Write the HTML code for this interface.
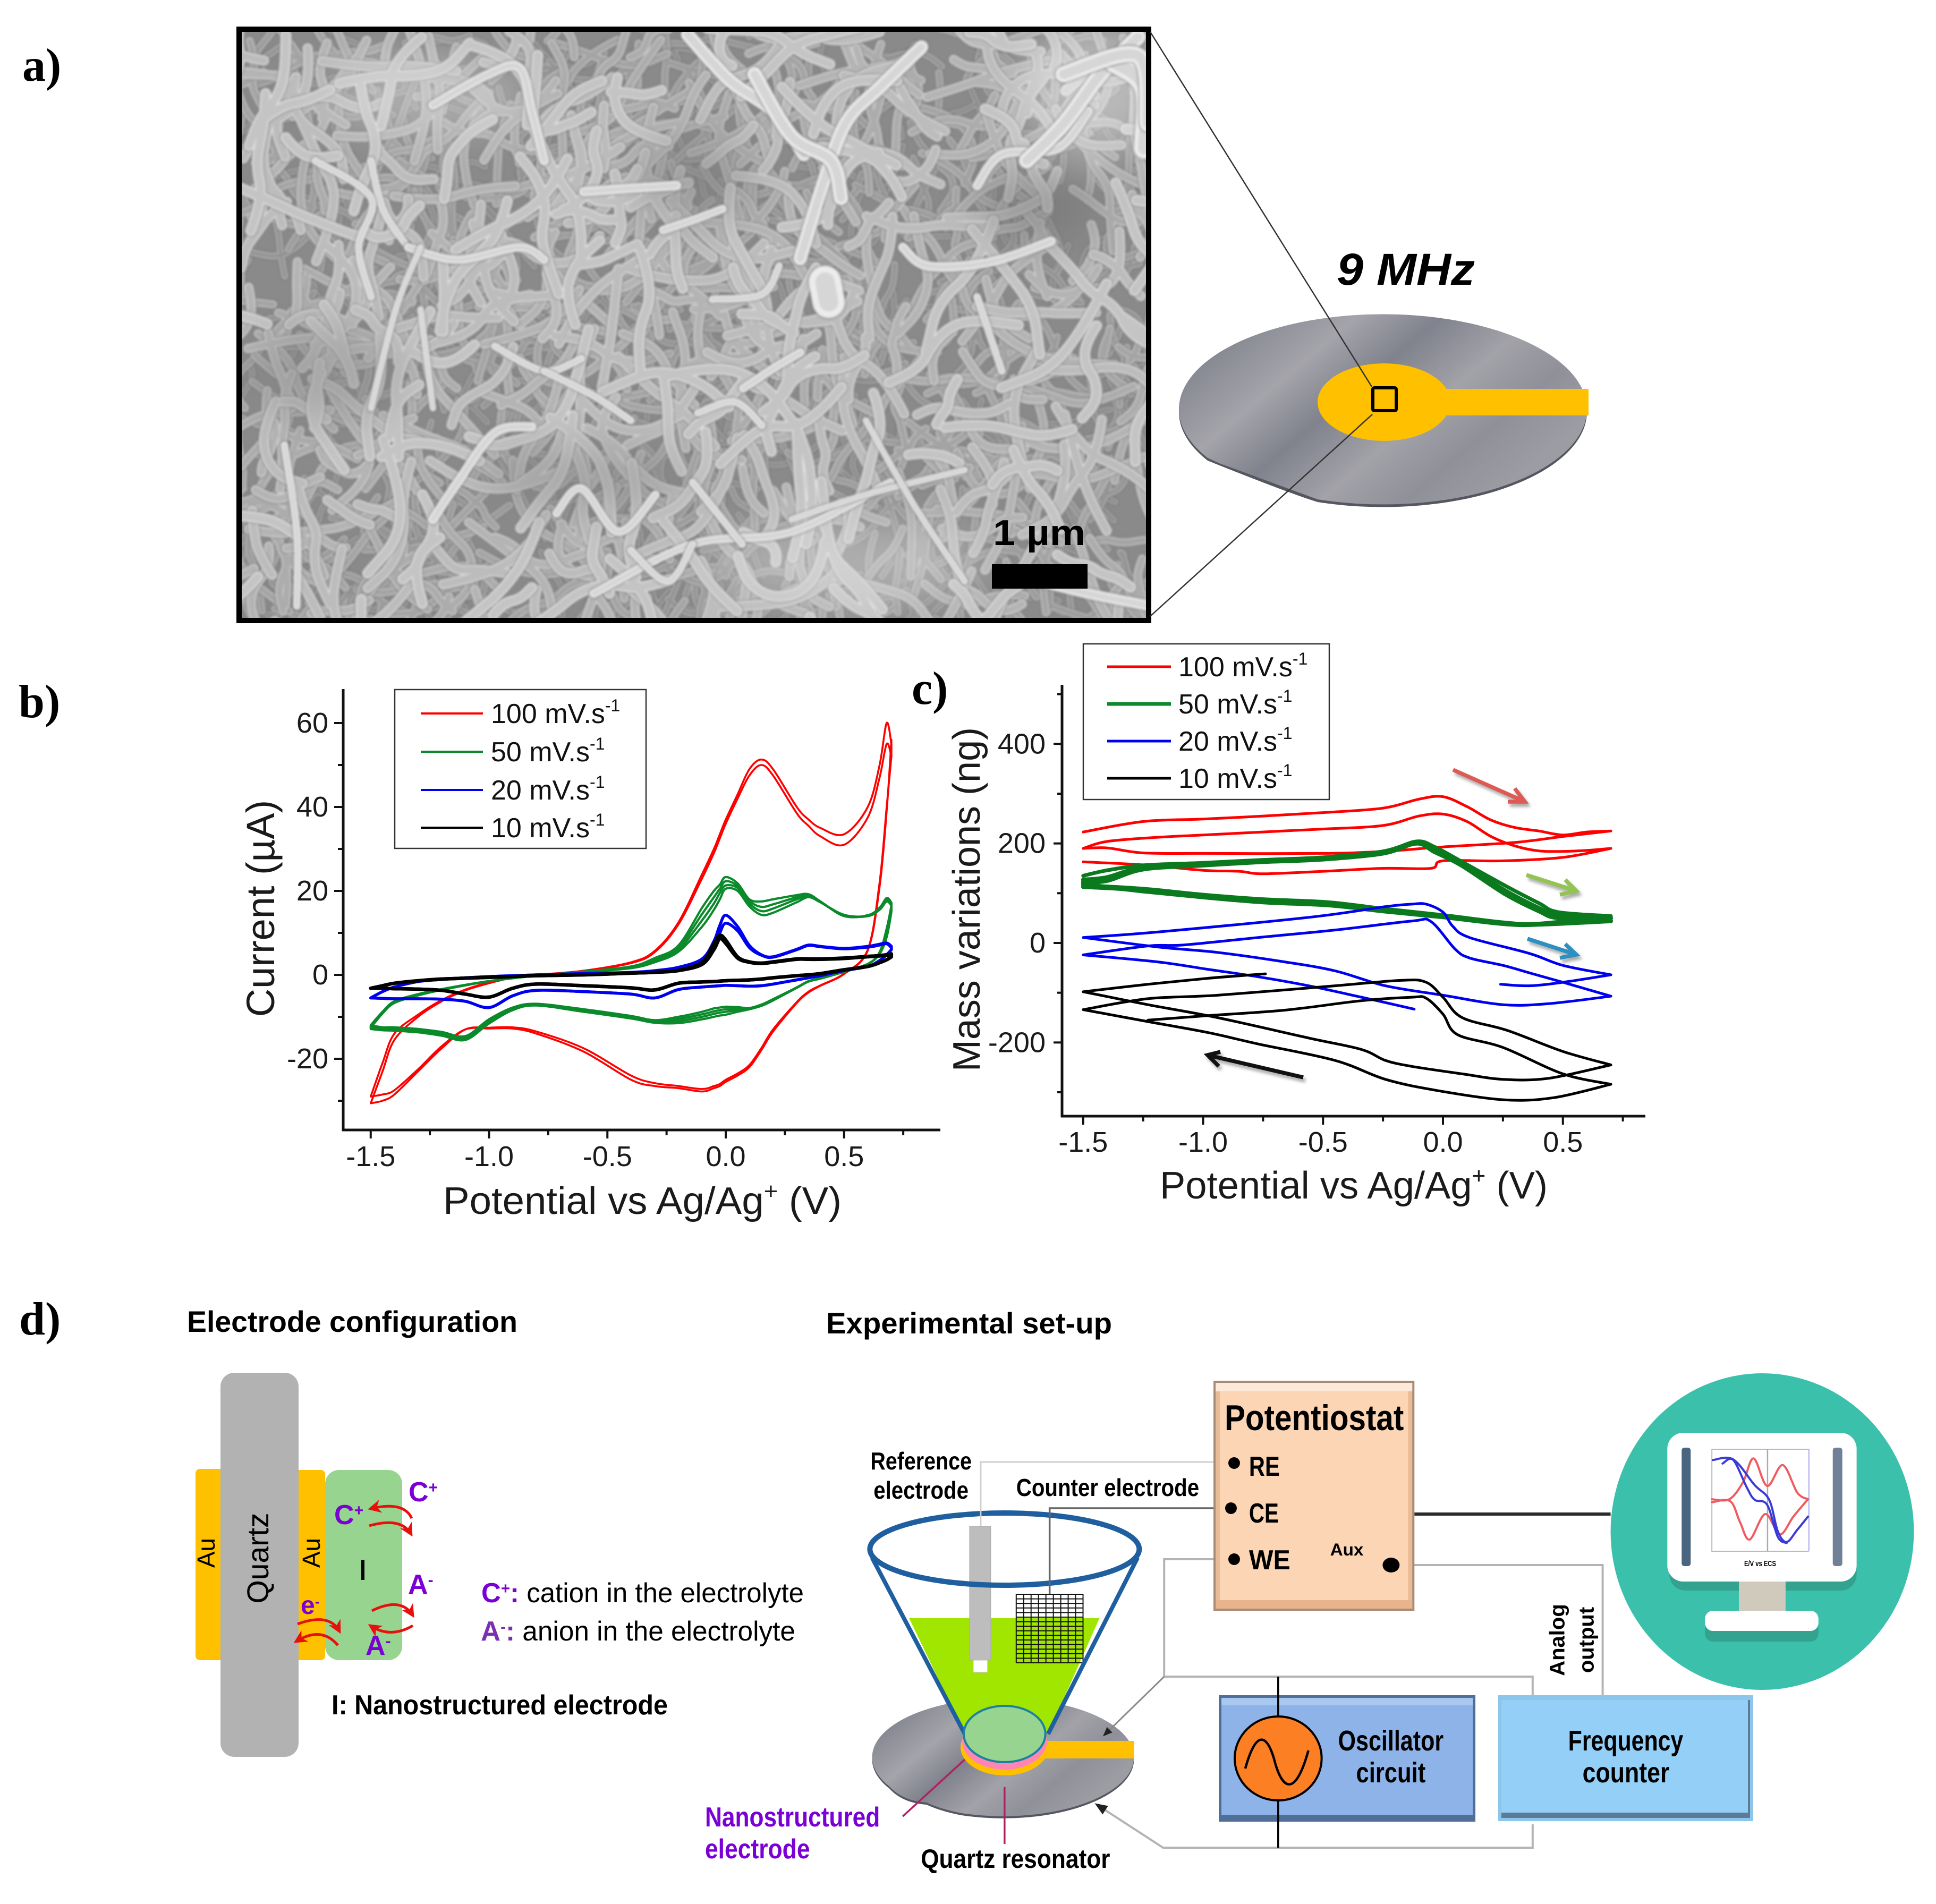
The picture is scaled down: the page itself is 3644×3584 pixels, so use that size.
<!DOCTYPE html>
<html lang="en">
<head>
<meta charset="utf-8">
<title>Nanostructured electrode EQCM figure</title>
<style>
html,body{margin:0;padding:0;background:#fff;width:3644px;height:3584px;overflow:hidden}
svg{display:block}
text{font-family:"Liberation Sans",sans-serif;fill:#000}
.panel{font-family:"Liberation Serif",serif;font-weight:bold;font-size:88px}
.tick{font-size:54px;fill:#1a1a1a}
.title{font-size:72px;fill:#1a1a1a}
.leg{font-size:52px;fill:#111}
.b{font-weight:bold}
.pur{fill:#7a00d6;font-weight:bold}
</style>
</head>
<body>
<svg id="figure" xmlns="http://www.w3.org/2000/svg" width="3644" height="3584" viewBox="0 0 3644 3584">
<defs>
  <clipPath id="semClip"><rect x="449" y="54" width="1713" height="1115"/></clipPath>
  <filter id="soft" x="-2%" y="-2%" width="104%" height="104%"><feGaussianBlur stdDeviation="2.2"/></filter>
  <filter id="blotch" x="-30%" y="-30%" width="160%" height="160%"><feGaussianBlur stdDeviation="40"/></filter>
  <linearGradient id="discGrad" x1="0" y1="0" x2="1" y2="0.55">
    <stop offset="0" stop-color="#7f818c"/><stop offset=".14" stop-color="#858791"/><stop offset=".34" stop-color="#a4a4aa"/>
    <stop offset=".5" stop-color="#80828d"/><stop offset=".68" stop-color="#a2a2a8"/><stop offset=".84" stop-color="#8f9099"/><stop offset="1" stop-color="#9c9ca3"/>
  </linearGradient>
  <marker id="redHead" viewBox="0 0 10 10" refX="8" refY="5" markerWidth="5" markerHeight="5" orient="auto"><path d="M0 0L10 5L0 10L3 5z" fill="#e8100c"/></marker>
  <marker id="grayHead" viewBox="0 0 10 10" refX="8" refY="5" markerWidth="6" markerHeight="6" orient="auto"><path d="M0 1L10 5L0 9z" fill="#222"/></marker>
</defs>

<!-- PANEL A -->
<text class="panel" x="42" y="152">a)</text>
<g id="semImage">
  <rect x="445" y="50" width="1722" height="1123" fill="#8a8a8a"/>
  <g clip-path="url(#semClip)">
    <g id="semFibres" filter="url(#soft)"></g>
    <g id="semBlotches" filter="url(#blotch)" opacity=".4">
      <ellipse cx="2060" cy="170" rx="130" ry="120" fill="#fff"/>
      <ellipse cx="1950" cy="390" rx="110" ry="70" fill="#6a6a6a"/>
      <ellipse cx="1300" cy="340" rx="110" ry="80" fill="#7a7a7a"/>
      <ellipse cx="800" cy="180" rx="190" ry="70" fill="#e4e4e4"/>
      <ellipse cx="620" cy="700" rx="140" ry="90" fill="#808080"/>
      <ellipse cx="1100" cy="900" rx="200" ry="60" fill="#808080"/>
      <ellipse cx="1600" cy="1060" rx="260" ry="80" fill="#e4e4e4"/>
    </g>
    <g id="semMajor" filter="url(#soft)"></g>
  </g>
  <rect x="450" y="55" width="1712" height="1113" fill="none" stroke="#000" stroke-width="10"/>
</g>
<rect x="1867" y="1062" width="180" height="46" fill="#000"/>
<text class="b" x="1869" y="1026" font-size="68" textLength="174" lengthAdjust="spacingAndGlyphs">1 µm</text>

<g>
  <path d="M2273 862A384 179 0 1 1 2480 940Q2430 925 2273 862z" transform="translate(0 5)" fill="#55565f"/>
  <path d="M2273 862A384 179 0 1 1 2480 940L2295 872z" fill="url(#discGrad)"/>
  <ellipse cx="2605" cy="757" rx="125" ry="73" fill="#ffc000"/>
  <rect x="2714" y="732" width="276" height="50" fill="#ffc000"/>
  <rect x="2584" y="730" width="44" height="43" rx="3" fill="none" stroke="#000" stroke-width="6"/>
</g>
<line x1="2165" y1="60" x2="2582" y2="728" stroke="#333" stroke-width="2.5"/>
<line x1="2165" y1="1160" x2="2583" y2="780" stroke="#333" stroke-width="2.5"/>
<text x="2516" y="536" font-size="84" font-weight="bold" font-style="italic" textLength="260" lengthAdjust="spacingAndGlyphs">9 MHz</text>

<!-- PANEL B -->
<text class="panel" x="35" y="1350">b)</text>
<g id="chartB">
  <g id="bSeries"></g>
  <line x1="646" y1="1297" x2="646" y2="2129" stroke="#111" stroke-width="5"/>
  <line x1="644" y1="2127" x2="1770" y2="2127" stroke="#111" stroke-width="5"/>
  <g id="bTicks"></g>
  <text class="title" x="834" y="2285" textLength="750" lengthAdjust="spacingAndGlyphs">Potential vs Ag/Ag<tspan dy="-28" font-size="44">+</tspan><tspan dy="28"> (V)</tspan></text>
  <text class="title" style="font-size:74px" transform="translate(516 1710) rotate(-90)" text-anchor="middle">Current (µA)</text>
  <g>
    <rect x="743" y="1298" width="473" height="299" fill="#fff" fill-opacity="0" stroke="#333" stroke-width="2.5"/>
    <line x1="792" y1="1343" x2="909" y2="1343" stroke="#f00" stroke-width="4"/>
    <text class="leg" x="924" y="1361">100 mV.s<tspan dy="-22" font-size="32">-1</tspan></text>
    <line x1="792" y1="1415" x2="909" y2="1415" stroke="#0b8a2b" stroke-width="4"/>
    <text class="leg" x="924" y="1433">50 mV.s<tspan dy="-22" font-size="32">-1</tspan></text>
    <line x1="792" y1="1487" x2="909" y2="1487" stroke="#0000f0" stroke-width="4"/>
    <text class="leg" x="924" y="1505">20 mV.s<tspan dy="-22" font-size="32">-1</tspan></text>
    <line x1="792" y1="1558" x2="909" y2="1558" stroke="#000" stroke-width="4"/>
    <text class="leg" x="924" y="1576">10 mV.s<tspan dy="-22" font-size="32">-1</tspan></text>
  </g>
</g>

<!-- PANEL C -->
<text class="panel" x="1716" y="1325">c)</text>
<g id="chartC">
  <g id="cSeries"></g>
  <line x1="1999" y1="1289" x2="1999" y2="2103" stroke="#111" stroke-width="5"/>
  <line x1="1997" y1="2101" x2="3097" y2="2101" stroke="#111" stroke-width="5"/>
  <g id="cTicks"></g>
  <text class="title" x="2183" y="2256" textLength="730" lengthAdjust="spacingAndGlyphs">Potential vs Ag/Ag<tspan dy="-28" font-size="44">+</tspan><tspan dy="28"> (V)</tspan></text>
  <text class="title" transform="translate(1844 1693) rotate(-90)" text-anchor="middle">Mass variations (ng)</text>
  <g>
    <rect x="2039" y="1212" width="463" height="293" fill="#fff" stroke="#333" stroke-width="2.5"/>
    <line x1="2084" y1="1255" x2="2204" y2="1255" stroke="#f00" stroke-width="5"/>
    <text class="leg" x="2218" y="1273">100 mV.s<tspan dy="-22" font-size="32">-1</tspan></text>
    <line x1="2084" y1="1325" x2="2204" y2="1325" stroke="#0b8a2b" stroke-width="7"/>
    <text class="leg" x="2218" y="1343">50 mV.s<tspan dy="-22" font-size="32">-1</tspan></text>
    <line x1="2084" y1="1395" x2="2204" y2="1395" stroke="#0000f0" stroke-width="5"/>
    <text class="leg" x="2218" y="1413">20 mV.s<tspan dy="-22" font-size="32">-1</tspan></text>
    <line x1="2084" y1="1465" x2="2204" y2="1465" stroke="#000" stroke-width="5"/>
    <text class="leg" x="2218" y="1483">10 mV.s<tspan dy="-22" font-size="32">-1</tspan></text>
  </g>
  <g fill="none" stroke-width="7.5" style="filter:drop-shadow(4px 6px 3px #aaa)">
    <path d="M2735 1449L2870 1509M2851 1484L2870 1509L2838 1509" stroke="#dd5a55"/>
    <path d="M2873 1647L2967 1677M2946 1656L2967 1677L2936 1684" stroke="#92c353"/>
    <path d="M2875 1767L2967 1797M2946 1777L2967 1797L2936 1803" stroke="#2e8fc2"/>
    <path d="M2453 2028L2273 1986M2297 1980L2273 1986L2294 2007" stroke="#111"/>
  </g>
</g>

<!-- PANEL D LEFT -->
<text class="panel" x="36" y="2512">d)</text>
<text class="b" x="352" y="2507" font-size="56" textLength="622" lengthAdjust="spacingAndGlyphs">Electrode configuration</text>
<g>
  <rect x="368" y="2765" width="60" height="360" rx="8" fill="#ffc000"/>
  <rect x="550" y="2767" width="62" height="358" rx="8" fill="#ffc000"/>
  <rect x="415" y="2584" width="147" height="723" rx="26" fill="#b2b2b2"/>
  <rect x="612" y="2767" width="145" height="358" rx="26" fill="#96d48f"/>
  <text transform="translate(404 2923) rotate(-90)" text-anchor="middle" font-size="46">Au</text>
  <text transform="translate(505 2933) rotate(-90)" text-anchor="middle" font-size="57" fill="#222">Quartz</text>
  <text transform="translate(602 2923) rotate(-90)" text-anchor="middle" font-size="46">Au</text>
  <rect x="680" y="2936" width="6" height="38" fill="#000"/>
  <text class="pur" x="769" y="2826" font-size="52">C<tspan dy="-16" font-size="30">+</tspan></text>
  <text class="pur" x="629" y="2869" font-size="52">C<tspan dy="-16" font-size="30">+</tspan></text>
  <text class="pur" x="768" y="3000" font-size="52">A<tspan dy="-16" font-size="30">-</tspan></text>
  <text class="pur" x="688" y="3115" font-size="52">A<tspan dy="-16" font-size="30">-</tspan></text>
  <text class="pur" x="566" y="3038" font-size="48">e<tspan dy="-14" font-size="28">-</tspan></text>
  <g fill="none" stroke="#e8100c" stroke-width="5">
    <path d="M775 2858Q760 2825 697 2840" marker-end="url(#redHead)"/>
    <path d="M695 2872Q755 2855 774 2888" marker-end="url(#redHead)"/>
    <path d="M700 3032Q755 3005 777 3041" marker-end="url(#redHead)"/>
    <path d="M777 3060Q735 3085 697 3060" marker-end="url(#redHead)"/>
    <path d="M560 3057Q620 3035 639 3071" marker-end="url(#redHead)"/>
    <path d="M636 3097Q605 3060 557 3090" marker-end="url(#redHead)"/>
  </g>
</g>
<text x="906" y="3016" font-size="52" textLength="607" lengthAdjust="spacingAndGlyphs" fill="#222"><tspan class="pur">C<tspan dy="-16" font-size="30">+</tspan><tspan dy="16">:</tspan></tspan> cation in the electrolyte</text>
<text x="905" y="3088" font-size="52" textLength="592" lengthAdjust="spacingAndGlyphs" fill="#222"><tspan style="fill:#7b30b0;font-weight:bold">A<tspan dy="-16" font-size="30">-</tspan><tspan dy="16">:</tspan></tspan> anion in the electrolyte</text>
<text class="b" x="624" y="3227" font-size="52" textLength="633" lengthAdjust="spacingAndGlyphs">I: Nanostructured electrode</text>

<!-- PANEL D RIGHT -->
<text class="b" x="1555" y="2510" font-size="56" textLength="538" lengthAdjust="spacingAndGlyphs">Experimental set-up</text>

<g transform="translate(2.6 0) scale(.998 1)">
<g>
  <path d="M1675 3363A247 111 0 1 1 1811 3413Q1770 3405 1745 3393Q1700 3390 1675 3363z" transform="translate(0 4)" fill="#55565f"/>
  <path d="M1675 3363A247 111 0 1 1 1811 3413Q1770 3405 1745 3393Q1700 3390 1675 3363z" fill="url(#discGrad)"/>
  <rect x="1960" y="3277" width="176" height="33" fill="#ffc000"/>
  <ellipse cx="1892" cy="3289" rx="83" ry="53" fill="#ffc000"/>
  <ellipse cx="1892" cy="3278" rx="80" ry="53" fill="#ff85b2"/>
  <polygon points="1712,3046 2071,3046 1974,3264 1817,3264" fill="#a0e600"/>
  <rect x="1826" y="2873" width="40" height="252" fill="#bdbdbd" stroke="#aaa"/>
  <rect x="1833" y="3125" width="27" height="23" fill="#fff" stroke="#bbb"/>
  <g id="meshGrid"></g>
  <line x1="1642" y1="2932" x2="1817" y2="3264" stroke="#1f5f9f" stroke-width="8"/>
  <line x1="2143" y1="2932" x2="1974" y2="3264" stroke="#1f5f9f" stroke-width="8"/>
  <ellipse cx="1892" cy="2916" rx="254" ry="68" fill="none" stroke="#1f5f9f" stroke-width="10"/>
  <ellipse cx="1892" cy="3264" rx="77" ry="53" fill="#96d48f" stroke="#1c80a0" stroke-width="4"/>
  <line x1="1817" y1="3312" x2="1700" y2="3419" stroke="#b02060" stroke-width="3.5"/>
  <line x1="1892" y1="3364" x2="1892" y2="3471" stroke="#b02060" stroke-width="3.5"/>
</g>
<g fill="none">
  <path d="M2320 2752H1847V2873" stroke="#cfcfcf" stroke-width="3"/>
  <path d="M2319 2839H1977V3001" stroke="#666" stroke-width="3.5"/>
  <path d="M2325 2935H2193V3156H2888V3191" stroke="#b4b4b4" stroke-width="4"/>
  <path d="M2193 3156L2080 3266" stroke="#888" stroke-width="3" marker-end="url(#grayHead)"/>
  <path d="M2665 2850H3035" stroke="#2b2b2b" stroke-width="6"/>
  <path d="M2640 2946H3020V3191" stroke="#b4b4b4" stroke-width="4"/>
  <path d="M2888 3434V3478H2191L2066 3397" stroke="#b4b4b4" stroke-width="4" marker-end="url(#grayHead)"/>
</g>
<text class="b" x="1639" y="2766" font-size="46" textLength="191" lengthAdjust="spacingAndGlyphs">Reference</text>
<text class="b" x="1645" y="2821" font-size="46" textLength="179" lengthAdjust="spacingAndGlyphs">electrode</text>
<text class="b" x="1914" y="2816" font-size="46" textLength="345" lengthAdjust="spacingAndGlyphs">Counter electrode</text>
<text class="pur" x="1327" y="3438" font-size="52" textLength="330" lengthAdjust="spacingAndGlyphs">Nanostructured</text>
<text class="pur" x="1327" y="3498" font-size="52" textLength="198" lengthAdjust="spacingAndGlyphs">electrode</text>
<text class="b" x="1734" y="3516" font-size="50" textLength="357" lengthAdjust="spacingAndGlyphs">Quartz resonator</text>

<g>
  <rect x="2286" y="2599" width="379" height="433" fill="#a98a74"/>
  <rect x="2290" y="2603" width="371" height="425" fill="#e9bc98"/>
  <rect x="2298" y="2603" width="355" height="425" fill="#fcd5b5"/>
  <rect x="2290" y="2603" width="371" height="16" fill="#fde9d9"/>
  <rect x="2290" y="3012" width="371" height="16" fill="#e8b48c"/>
  <text class="b" x="2307" y="2692" font-size="68" textLength="338" lengthAdjust="spacingAndGlyphs">Potentiostat</text>
  <circle cx="2325" cy="2754" r="11" fill="#000"/>
  <text class="b" x="2353" y="2778" font-size="52" textLength="58" lengthAdjust="spacingAndGlyphs">RE</text>
  <circle cx="2319" cy="2839" r="11" fill="#000"/>
  <text class="b" x="2353" y="2866" font-size="52" textLength="56" lengthAdjust="spacingAndGlyphs">CE</text>
  <circle cx="2325" cy="2935" r="11" fill="#000"/>
  <text class="b" x="2353" y="2954" font-size="52" textLength="78" lengthAdjust="spacingAndGlyphs">WE</text>
  <text class="b" x="2506" y="2928" font-size="32" textLength="63" lengthAdjust="spacingAndGlyphs">Aux</text>
  <ellipse cx="2621" cy="2946" rx="16" ry="14" fill="#000"/>
</g>

<g>
  <rect x="2296" y="3191" width="484" height="238" fill="#4f6e98"/>
  <rect x="2301" y="3196" width="474" height="220" fill="#8db3e8"/>
  <rect x="2301" y="3196" width="474" height="14" fill="#a9c8ef"/>
  <line x1="2408" y1="3156" x2="2408" y2="3478" stroke="#000" stroke-width="3.5"/>
  <ellipse cx="2408" cy="3310" rx="82" ry="79" fill="#fd7f24" stroke="#000" stroke-width="4"/>
  <path d="M2346 3329C2365 3260 2385 3260 2400 3310C2415 3370 2440 3385 2465 3295" fill="none" stroke="#000" stroke-width="4.5"/>
  <text class="b" x="2521" y="3295" font-size="54" textLength="199" lengthAdjust="spacingAndGlyphs">Oscillator</text>
  <text class="b" x="2555" y="3355" font-size="54" textLength="131" lengthAdjust="spacingAndGlyphs">circuit</text>
</g>
<g>
  <rect x="2823" y="3191" width="481" height="237" fill="#8cc6ea"/>
  <rect x="2829" y="3200" width="469" height="222" fill="#5d7b99"/>
  <rect x="2829" y="3200" width="465" height="212" fill="#93cff7"/>
  <text class="b" x="2955" y="3295" font-size="54" textLength="217" lengthAdjust="spacingAndGlyphs">Frequency</text>
  <text class="b" x="2982" y="3355" font-size="54" textLength="164" lengthAdjust="spacingAndGlyphs">counter</text>
</g>
<text class="b" transform="translate(2948 3087) rotate(-90)" text-anchor="middle" font-size="40">Analog</text>
<text class="b" transform="translate(3003 3087) rotate(-90)" text-anchor="middle" font-size="40">output</text>

<g>
  <ellipse cx="3321" cy="2883" rx="286" ry="298" fill="#3bc0ab"/>
  <rect x="3146" y="2712" width="353" height="282" rx="30" fill="#33a28f"/>
  <rect x="3213" y="3050" width="214" height="40" rx="15" fill="#33a28f"/>
  <rect x="3277" y="2977" width="88" height="58" fill="#cfcabb"/>
  <rect x="3142" y="2697" width="357" height="280" rx="30" fill="#fff"/>
  <rect x="3213" y="3032" width="214" height="38" rx="15" fill="#fff"/>
  <rect x="3169" y="2725" width="17" height="223" rx="5" fill="#4a6580"/>
  <rect x="3454" y="2725" width="18" height="223" rx="5" fill="#6f8098"/>
  <path d="M3226 2728V2920H3409" fill="none" stroke="#bbb" stroke-width="2"/>
  <path d="M3226 2728H3409" fill="none" stroke="#bbb" stroke-width="2"/>
  <path d="M3409 2728V2920" fill="none" stroke="#aaaaee" stroke-width="2"/>
  <line x1="3331" y1="2728" x2="3331" y2="2920" stroke="#aaa" stroke-width="2.5"/>
  <g id="miniSeries"></g>
  <text class="b" x="3287" y="2948" font-size="15" textLength="60" lengthAdjust="spacingAndGlyphs" font-family="Liberation Serif">E/V vs ECS</text>
</g>
</g>
</svg>

<script>
/* ---------- panel b: cyclic voltammetry ---------- */
const bPotential=[-1.5,-1.45,-1.4,-1.3,-1.2,-1.1,-1.0,-0.9,-0.8,-0.6,-0.4,-0.3,-0.2,-0.1,-0.05,-0.025,0,0.05,0.1,0.15,0.2,0.3,0.35,0.4,0.5,0.6,0.65,0.68,0.7];
const bXTicks=[-1.5,-1.0,-0.5,0.0,0.5];
const bXMinor=[-1.25,-0.75,-0.25,0.25,0.75];
const bXLabels=["-1.5","-1.0","-0.5","0.0","0.5"];
const bYTicks=[60,40,20,0,-20];
const bYMinor=[50,30,10,-10,-30];
const bYLabels=["60","40","20","0","-20"];

const bRed1Forward=[-29,-21,-14,-9.5,-6,-3.5,-1.8,-0.6,0,1,3,5.7,12.5,24,30,33.5,37,43,49,51.3,49,40,37,35,33.5,40,50,60,55];
const bRed2Forward=[-30.6,-23,-15.5,-10,-6.3,-3.7,-2,-0.7,-0.1,0.9,2.8,5.4,12,23,29,32.5,36,42,47.5,50,47.5,38.5,35.5,33,31,37.5,47,55,52];
const bRed1Return=[-30.6,-30,-28.5,-23,-17.5,-13,-12.6,-12.5,-13.5,-17.5,-24,-25.8,-26.5,-27.2,-26.5,-26,-25,-23.5,-21.5,-17.5,-13,-6.5,-4,-2.5,0.3,6,22,40,52];
const bRed2Return=[-29,-28.5,-27.5,-22.5,-17,-13,-12.8,-12.8,-14,-18.3,-25,-26.5,-27,-27.8,-27,-26.5,-25.5,-24,-22,-18,-13.5,-6.7,-4.2,-2.6,0.2,5.8,21,39,56];

const bGreen1Forward=[-12,-8.8,-6.3,-4.6,-3.4,-2.4,-1.5,-0.8,-0.2,0.6,1.6,3,5.5,11.5,15.5,18,20.5,20,16.3,14.3,14.8,17.3,18.5,17.3,14.3,14,15.5,17.5,16.5];
const bGreen2Forward=[-12.2,-9,-6.5,-4.7,-3.5,-2.4,-1.5,-0.8,-0.2,0.7,1.8,3.3,6,13,17,19.5,21.3,20.7,17,15.2,15.8,18,18.7,17.3,14.2,14,15.7,17.8,16.8];
const bGreen3Forward=[-12.4,-9.1,-6.6,-4.8,-3.5,-2.4,-1.5,-0.8,-0.2,0.7,1.9,3.6,6.5,14.5,18.5,20.5,22.3,21.2,17.6,16.2,16.8,18.5,18.9,17.4,14.1,14.1,15.9,18,17];
const bGreen4Forward=[-12.6,-9.2,-6.7,-4.9,-3.6,-2.5,-1.5,-0.8,-0.2,0.8,2,4,7,16,20,21.5,23.3,21.8,18,17.5,18,19,19.2,17.5,14,14.2,16,18.3,17.2];
const bGreen1Return=[-12,-12.5,-12.5,-12.9,-13.6,-14.6,-10.6,-7.8,-6.9,-8.2,-9.8,-10.8,-10,-8.8,-8,-7.8,-7.6,-7.7,-7.9,-7.1,-5.8,-3,-1.5,-0.8,0.8,2.6,5,9,15];
const bGreen2Return=[-12.5,-12.8,-12.8,-13.2,-14,-15,-11,-8,-7,-8.4,-10,-11,-10.5,-9.4,-8.7,-8.4,-8.2,-8.1,-8,-7.2,-5.9,-3,-1.5,-0.8,0.8,2.6,5,9.5,15.5];
const bGreen3Return=[-12.7,-13,-13,-13.4,-14.2,-15.2,-11.3,-8.2,-7.2,-8.6,-10.2,-11.2,-11,-10,-9.3,-9,-8.8,-8.4,-8.1,-7.3,-6,-3,-1.6,-0.8,0.8,2.6,5.2,10,16];
const bGreen4Return=[-12.9,-13.2,-13.3,-13.7,-14.5,-15.5,-11.6,-8.4,-7.3,-8.8,-10.4,-11.4,-11.5,-10.6,-10,-9.7,-9.5,-8.8,-8.2,-7.4,-6.1,-3.1,-1.6,-0.9,0.7,2.5,5.4,11,16.5];

const bBlue1Forward=[-5.5,-4,-2.9,-1.6,-1.1,-0.7,-0.4,-0.2,0,0.3,0.5,0.9,1.6,3.2,6.5,10,12.3,10.5,6.5,4.7,4.2,6,7,6.7,6.2,6.6,7.1,7.4,6.5];
const bBlue2Forward=[-5.5,-4,-2.9,-1.6,-1.1,-0.7,-0.4,-0.2,0,0.3,0.6,1,1.8,3.8,8,11.8,14.2,11.5,7,4.8,4.3,6.1,7.1,6.8,6.3,6.8,7.3,7.6,6.8];
const bBlueReturn=[-5.5,-5.6,-5.7,-5.7,-5.8,-6.3,-7.8,-5,-3.7,-4,-4.6,-5.5,-3.5,-2.9,-2.7,-2.6,-2.5,-2.6,-2.7,-2.6,-2.2,-1.2,-0.7,-0.2,1,2,3.4,4.8,6];

const bBlack1Forward=[-3.2,-2.6,-2,-1.4,-1,-0.8,-0.6,-0.4,-0.2,0,0.4,0.6,1,2.5,6,8.6,7.5,4,3,2.7,3,3.7,3.7,3.7,3.9,4.3,4.5,4.7,4.8];
const bBlack2Forward=[-3.2,-2.6,-2,-1.4,-1,-0.8,-0.6,-0.4,-0.2,0,0.4,0.6,1.1,3,7.4,9.4,8.3,4.3,3.1,2.8,3.1,3.8,3.8,3.8,4,4.4,4.6,4.8,5];
const bBlackReturn=[-3.2,-3.2,-3.3,-3.4,-3.7,-4.6,-5.3,-3.2,-2.2,-2.6,-3.1,-3.6,-2,-1.7,-1.6,-1.5,-1.4,-1.3,-1.2,-1,-0.7,-0.2,0,0.3,1.2,2,2.9,3.6,4.3];

/* ---------- panel c: mass variation ---------- */
const cXTicks=[-1.5,-1.0,-0.5,0.0,0.5];
const cXMinor=[-1.25,-0.75,-0.25,0.25,0.75];
const cXLabels=["-1.5","-1.0","-0.5","0.0","0.5"];
const cYTicks=[400,200,0,-200];
const cYMinor=[500,300,100,-100,-300];
const cYLabels=["400","200","0","-200"];

const cRedPotential=[-1.5,-1.25,-1,-.85,-.75,-.5,-.25,-.05,0,.25,.5,.7,.6,.5,.4,.3,.2,.1,0,-.1,-.25,-.5,-.75,-1,-1.2,-1.4,-1.5,-1.4,-1.25,-1,-.5,-.25,0,.3,.5,.7,.6,.5,.4,.3,.2,.1,0,-.1,-.25,-.5,-.75,-1,-1.25,-1.5];
const cRedMass=[163,157,146,144,139,144,150,150,165,165,172,190,186,184,185,195,214,244,259,255,236,229,223,217,212,204,190,191,181,180,180,184,193,202,214,225,223,217,225,232,247,274,294,289,271,262,255,249,244,223];

const cGreenPotential=[-1.5,-1.4,-1.25,-1,-.75,-.5,-.25,-.11,-.035,.08,.26,.4,.48,.7,.4,.26,0,-.25,-.48,-.75,-1,-1.25,-1.5];
const cGreen1Mass=[135,146,156,161,167,172,184,204,193,163,115,80,62,54,39,41,56,69,82,88,97,109,116];
const cGreen2Mass=[127,132,152,158,165,170,182,202,187,158,105,70,55,50,38,39,54,66,79,85,94,106,113];
const cGreen3Mass=[122,125,148,156,163,168,180,200,183,155,98,64,50,44,37,38,52,64,76,82,92,104,118];

const cBluePotential=[.24,.36,.5,.7,.5,.36,.11,.04,0,-.07,-.13,-.24,-.55,-1.19,-1.5,-1.19,-.94,-.66,-.45,-.24,0,.25,.44,.7,.5,.36,.25,.11,.05,-.05,-.13,-.45,-.77,-1.08,-1.23,-1.5,-1.19,-.98,-.77,-.56,-.34,-.12];
const cBlueMass=[-83,-86,-79,-64,-45,-21,11,34,62,78,78,73,52,22,11,-8,-19,-38,-56,-86,-105,-124,-122,-107,-79,-60,-45,-30,-12,43,44,26,11,-4,-6,-24,-38,-53,-68,-86,-109,-133];

const cBlackPotential=[-.74,-.98,-1.23,-1.5,-1.23,-.94,-.56,-.34,-.24,-.13,.08,.25,.44,.7,.5,.27,.08,0,-.07,-.17,-.45,-.94,-1.23,-1.5,-1.23,-.98,-.77,-.45,-.24,-.03,.25,.46,.7,.5,.25,.06,0,-.07,-.13,-.34,-.66,-.98,-1.23];
const cBlackMass=[-62,-71,-83,-98,-124,-150,-191,-214,-236,-248,-263,-274,-272,-245,-218,-176,-150,-109,-79,-75,-86,-105,-112,-134,-158,-180,-203,-236,-274,-296,-315,-311,-284,-263,-210,-184,-143,-111,-109,-116,-135,-146,-155];

/* ---------- mini chart on the monitor ---------- */
const miniRedUpperX=[0,.18,.32,.43,.57,.73,.88,.99];
const miniRedUpperY=[.02,.02,.35,.82,.28,.69,.15,.02];
const miniRedLowerX=[0,.19,.29,.39,.55,.70,.84,.99];
const miniRedLowerY=[-.04,-.02,-.43,-.77,-.27,-.67,-.32,.02];
const miniBlue1X=[.01,.22,.44,.59,.68,.77,.88,.99];
const miniBlue1Y=[.79,.80,.30,.01,-.61,-.82,-.58,-.32];
const miniBlue2X=[.11,.22,.36,.44,.57,.68,.77];
const miniBlue2Y=[.72,.79,.25,.01,-.09,-.72,-.84];

const SVGNS='http://www.w3.org/2000/svg';

/* axis functions */
function bx(v){return 1366+445.5*v;}
function by(i){return 1835-7.9*i;}
function cx(v){return 2716+451.5*v;}
function cy(m){return 1775-0.9367*m;}
function mx(f){return 3226+183*f;}
function my(f){return 2824-96*f;}

function smoothBranch(pts,first){
  let d=(first?'M':'L')+pts[0][0].toFixed(1)+' '+pts[0][1].toFixed(1);
  for(let i=0;i<pts.length-1;i++){
    const p0=pts[Math.max(i-1,0)],p1=pts[i],p2=pts[i+1],p3=pts[Math.min(i+2,pts.length-1)];
    const k=1/6;
    d+='C'+(p1[0]+(p2[0]-p0[0])*k).toFixed(1)+' '+(p1[1]+(p2[1]-p0[1])*k).toFixed(1)+' '+
      (p2[0]-(p3[0]-p1[0])*k).toFixed(1)+' '+(p2[1]-(p3[1]-p1[1])*k).toFixed(1)+' '+p2[0].toFixed(1)+' '+p2[1].toFixed(1);
  }
  return d;
}
function addPath(parentId,d,stroke,width){
  const p=document.createElementNS(SVGNS,'path');
  p.setAttribute('d',d);
  p.setAttribute('fill','none');
  p.setAttribute('stroke',stroke);
  p.setAttribute('stroke-width',width);
  p.setAttribute('stroke-linejoin','round');
  p.setAttribute('stroke-linecap','round');
  document.getElementById(parentId).appendChild(p);
  return p;
}
function addLine(parentId,x1,y1,x2,y2,width){
  const l=document.createElementNS(SVGNS,'line');
  l.setAttribute('x1',x1);l.setAttribute('y1',y1);l.setAttribute('x2',x2);l.setAttribute('y2',y2);
  l.setAttribute('stroke','#111');l.setAttribute('stroke-width',width);
  document.getElementById(parentId).appendChild(l);
  return l;
}
function addLabel(parentId,x,y,str,anchor){
  const t=document.createElementNS(SVGNS,'text');
  t.setAttribute('x',x);t.setAttribute('y',y);t.setAttribute('class','tick');t.setAttribute('text-anchor',anchor);
  t.textContent=str;
  document.getElementById(parentId).appendChild(t);
  return t;
}

/* panel b series */
function bLoop(forward,back){
  const f=bPotential.map((v,i)=>[bx(v),by(forward[i])]);
  const r=bPotential.map((v,i)=>[bx(v),by(back[i])]).reverse();
  return smoothBranch(f,true)+smoothBranch(r,false);
}
const bCycles=[
  ['cv-100-cycle-1',bRed1Forward,bRed1Return,'#f00',3.6],
  ['cv-100-cycle-2',bRed2Forward,bRed2Return,'#f00',3.6],
  ['cv-50-cycle-1',bGreen1Forward,bGreen1Return,'#0b8a2b',4.2],
  ['cv-50-cycle-2',bGreen2Forward,bGreen2Return,'#0b8a2b',4.2],
  ['cv-50-cycle-3',bGreen3Forward,bGreen3Return,'#0b8a2b',4.2],
  ['cv-50-cycle-4',bGreen4Forward,bGreen4Return,'#0b8a2b',4.2],
  ['cv-20-cycle-1',bBlue1Forward,bBlueReturn,'#0000f0',5.5],
  ['cv-20-cycle-2',bBlue2Forward,bBlueReturn,'#0000f0',5.5],
  ['cv-10-cycle-1',bBlack1Forward,bBlackReturn,'#000',6.5],
  ['cv-10-cycle-2',bBlack2Forward,bBlackReturn,'#000',6.5]
];
bCycles.forEach(c=>{
  const p=addPath('bSeries',bLoop(c[1],c[2]),c[3],c[4]);
  
  
});

/* panel b ticks */
bXTicks.forEach((v,i)=>{
  const l=addLine('bTicks',bx(v),2127,bx(v),2143,4);
  
  
  const t=addLabel('bTicks',bx(v),2195,bXLabels[i],'middle');
  
  
});
bXMinor.forEach(v=>{
  const l=addLine('bTicks',bx(v),2127,bx(v),2137,4);
  
  
});
bYTicks.forEach((v,i)=>{
  const l=addLine('bTicks',629,by(v),646,by(v),4);
  
  
  const t=addLabel('bTicks',618,by(v)+18,bYLabels[i],'end');
  
  
});
bYMinor.forEach(v=>{
  const l=addLine('bTicks',636,by(v),646,by(v),4);
  
  
});

/* panel c series: each monotone sweep of the trace is smoothed on its own */
function cTrace(pot,mass){
  let d='',branch=[[cx(pot[0]),cy(mass[0])]],dir=0,first=true;
  for(let i=1;i<pot.length;i++){
    const s=Math.sign(pot[i]-pot[i-1]);
    if(dir&&s!==dir){d+=smoothBranch(branch,first);first=false;branch=[branch[branch.length-1]];}
    dir=s;
    branch.push([cx(pot[i]),cy(mass[i])]);
  }
  return d+smoothBranch(branch,first);
}
const cTraces=[
  ['mass-100-trace',cRedPotential,cRedMass,'#f00',5],
  ['mass-50-cycle-1',cGreenPotential,cGreen1Mass,'#0b7a1f',7],
  ['mass-50-cycle-2',cGreenPotential,cGreen2Mass,'#0b7a1f',8],
  ['mass-50-cycle-3',cGreenPotential,cGreen3Mass,'#0b7a1f',8],
  ['mass-20-trace',cBluePotential,cBlueMass,'#0000f0',5],
  ['mass-10-trace',cBlackPotential,cBlackMass,'#000',5]
];
cTraces.forEach(c=>{
  const p=addPath('cSeries',cTrace(c[1],c[2]),c[3],c[4]);
  
  
});

/* panel c ticks */
cXTicks.forEach((v,i)=>{
  const l=addLine('cTicks',cx(v),2101,cx(v),2117,4);
  
  
  const t=addLabel('cTicks',cx(v),2168,cXLabels[i],'middle');
  
  
});
cXMinor.forEach(v=>{
  const l=addLine('cTicks',cx(v),2101,cx(v),2111,4);
  
  
});
cYTicks.forEach((v,i)=>{
  const l=addLine('cTicks',1983,cy(v),1999,cy(v),4);
  
  
  const t=addLabel('cTicks',1968,cy(v)+18,cYLabels[i],'end');
  
  
});
cYMinor.forEach(v=>{
  const l=addLine('cTicks',1990,cy(v),1999,cy(v),4);
  
  
});

/* mini chart */
[[miniRedUpperX,miniRedUpperY,'#ef5b60'],[miniRedLowerX,miniRedLowerY,'#ef5b60'],[miniBlue1X,miniBlue1Y,'#3a3ad8'],[miniBlue2X,miniBlue2Y,'#3a3ad8']].forEach(s=>{
  const pts=s[0].map((v,i)=>[mx(v),my(s[1][i])]);
  const p=addPath('miniSeries',smoothBranch(pts,true),s[2],4);
  
  
});

/* counter-electrode mesh */
for(let i=0;i<=9;i++){
  const l=addLine('meshGrid',1914+14*i,3001,1914+14*i,3130,2);
  
  
}
for(let i=0;i<=15;i++){
  const l=addLine('meshGrid',1914,3001+8.6*i,2040,3001+8.6*i,2);
  
  
}

/* SEM texture: a photographic surface, imitated with a fixed-seed generator */
let semSeed=48271;
function semNext(){semSeed=(semSeed*1664525+1013904223)>>>0;return semSeed/4294967296;}
function fibreLayer(count,minLen,maxLen){
  let d='';
  for(let i=0;i<count;i++){
    let x=430+semNext()*1760,y=35+semNext()*1150;
    let a=semNext()*6.283;
    if(semNext()<.45)a=1.57+(semNext()-.5)*1.6;
    const n=3+Math.floor(semNext()*3);
    const step=(minLen+semNext()*(maxLen-minLen))/n;
    const p=[[x,y]];
    for(let j=0;j<n;j++){
      a+=(semNext()-.5)*1.5;
      x+=Math.cos(a)*step;y+=Math.sin(a)*step;
      p.push([x,y]);
    }
    d+='M'+p[0][0].toFixed(0)+' '+p[0][1].toFixed(0);
    for(let j=1;j<n;j++){
      d+='Q'+p[j][0].toFixed(0)+' '+p[j][1].toFixed(0)+' '+((p[j][0]+p[j+1][0])/2).toFixed(0)+' '+((p[j][1]+p[j+1][1])/2).toFixed(0);
    }
    d+='L'+p[n][0].toFixed(0)+' '+p[n][1].toFixed(0);
  }
  return d;
}
const semCores=['#8c8c8c','#949494','#9c9c9c','#a4a4a4','#acacac','#b4b4b4','#bcbcbc','#c4c4c4'];
const semEdges=['#a8a8a8','#b0b0b0','#b8b8b8','#c2c2c2','#cacaca','#d2d2d2','#dadada','#e2e2e2'];
semCores.forEach((core,k)=>{
  const d=fibreLayer(230-k*16,90,190+k*16);
  const w=11+k*1.3;
  const under=addPath('semFibres',d,'#5e5e5e',w+4);
  under.setAttribute('opacity','.55');
  
  
  const edge=addPath('semFibres',d,semEdges[k],w);
  
  
  const top=addPath('semFibres',d,core,w-5);
  
  
});
const semScale=2.328;
const semMajorFibres=[
  [13,[745,38,712,70,684,99,665,150,647,209]],[13,[556,28,590,65,625,90,650,125]],[14,[610,60,640,110,672,130,680,160]],
  [9,[880,90,855,120,810,125,790,150]],[15,[920,30,890,60,860,100,830,130]],[20,[900,50,925,70,925,120]],
  [9,[730,200,750,215,800,212,850,195]],[9,[350,85,395,60,420,55,430,90,440,130]],[7,[300,130,310,170,330,200]],
  [8,[330,200,370,210,420,200,440,210]],[7,[255,130,300,160,290,200,300,240]],[9,[472,155,513,152,547,150]],
  [32,[667,228,670,244]],[7,[230,360,240,430,240,490]],[9,[350,420,370,390,400,350,430,345]],
  [8,[450,415,470,395,500,430,530,400]],[8,[480,480,560,440,640,430,720,390]],[6,[640,420,700,400,780,380]],
  [7,[400,280,440,300,470,290]],[7,[440,300,480,320,510,340]],[10,[840,470,880,480,930,490]],
  [7,[510,445,540,470,560,440]],[6,[700,340,740,410,780,470]],[6,[300,330,320,250,340,200]],
  [6,[340,250,350,330]],[7,[790,240,810,300]],[7,[560,390,600,440]],[16,[860,60,920,45,928,100]],
  [8,[536,186,560,178,584,169]],[8,[601,314,625,298,647,285]],[7,[564,334,594,325,616,344]],[7,[630,215,616,238,576,242]]
];
semMajorFibres.forEach(f=>{
  const pts=[];
  for(let i=0;i<f[1].length;i+=2)pts.push([f[1][i]*semScale,f[1][i+1]*semScale]);
  const d=smoothBranch(pts,true);
  const w=f[0]*1.9;
  const under=addPath('semMajor',d,'#5f5f5f',w+5);
  under.setAttribute('opacity','.55');
  
  
  const edge=addPath('semMajor',d,'#ececec',w);
  
  
  const top=addPath('semMajor',d,'#d6d6d6',w*.6);
  
  
});
</script>
</body>
</html>
